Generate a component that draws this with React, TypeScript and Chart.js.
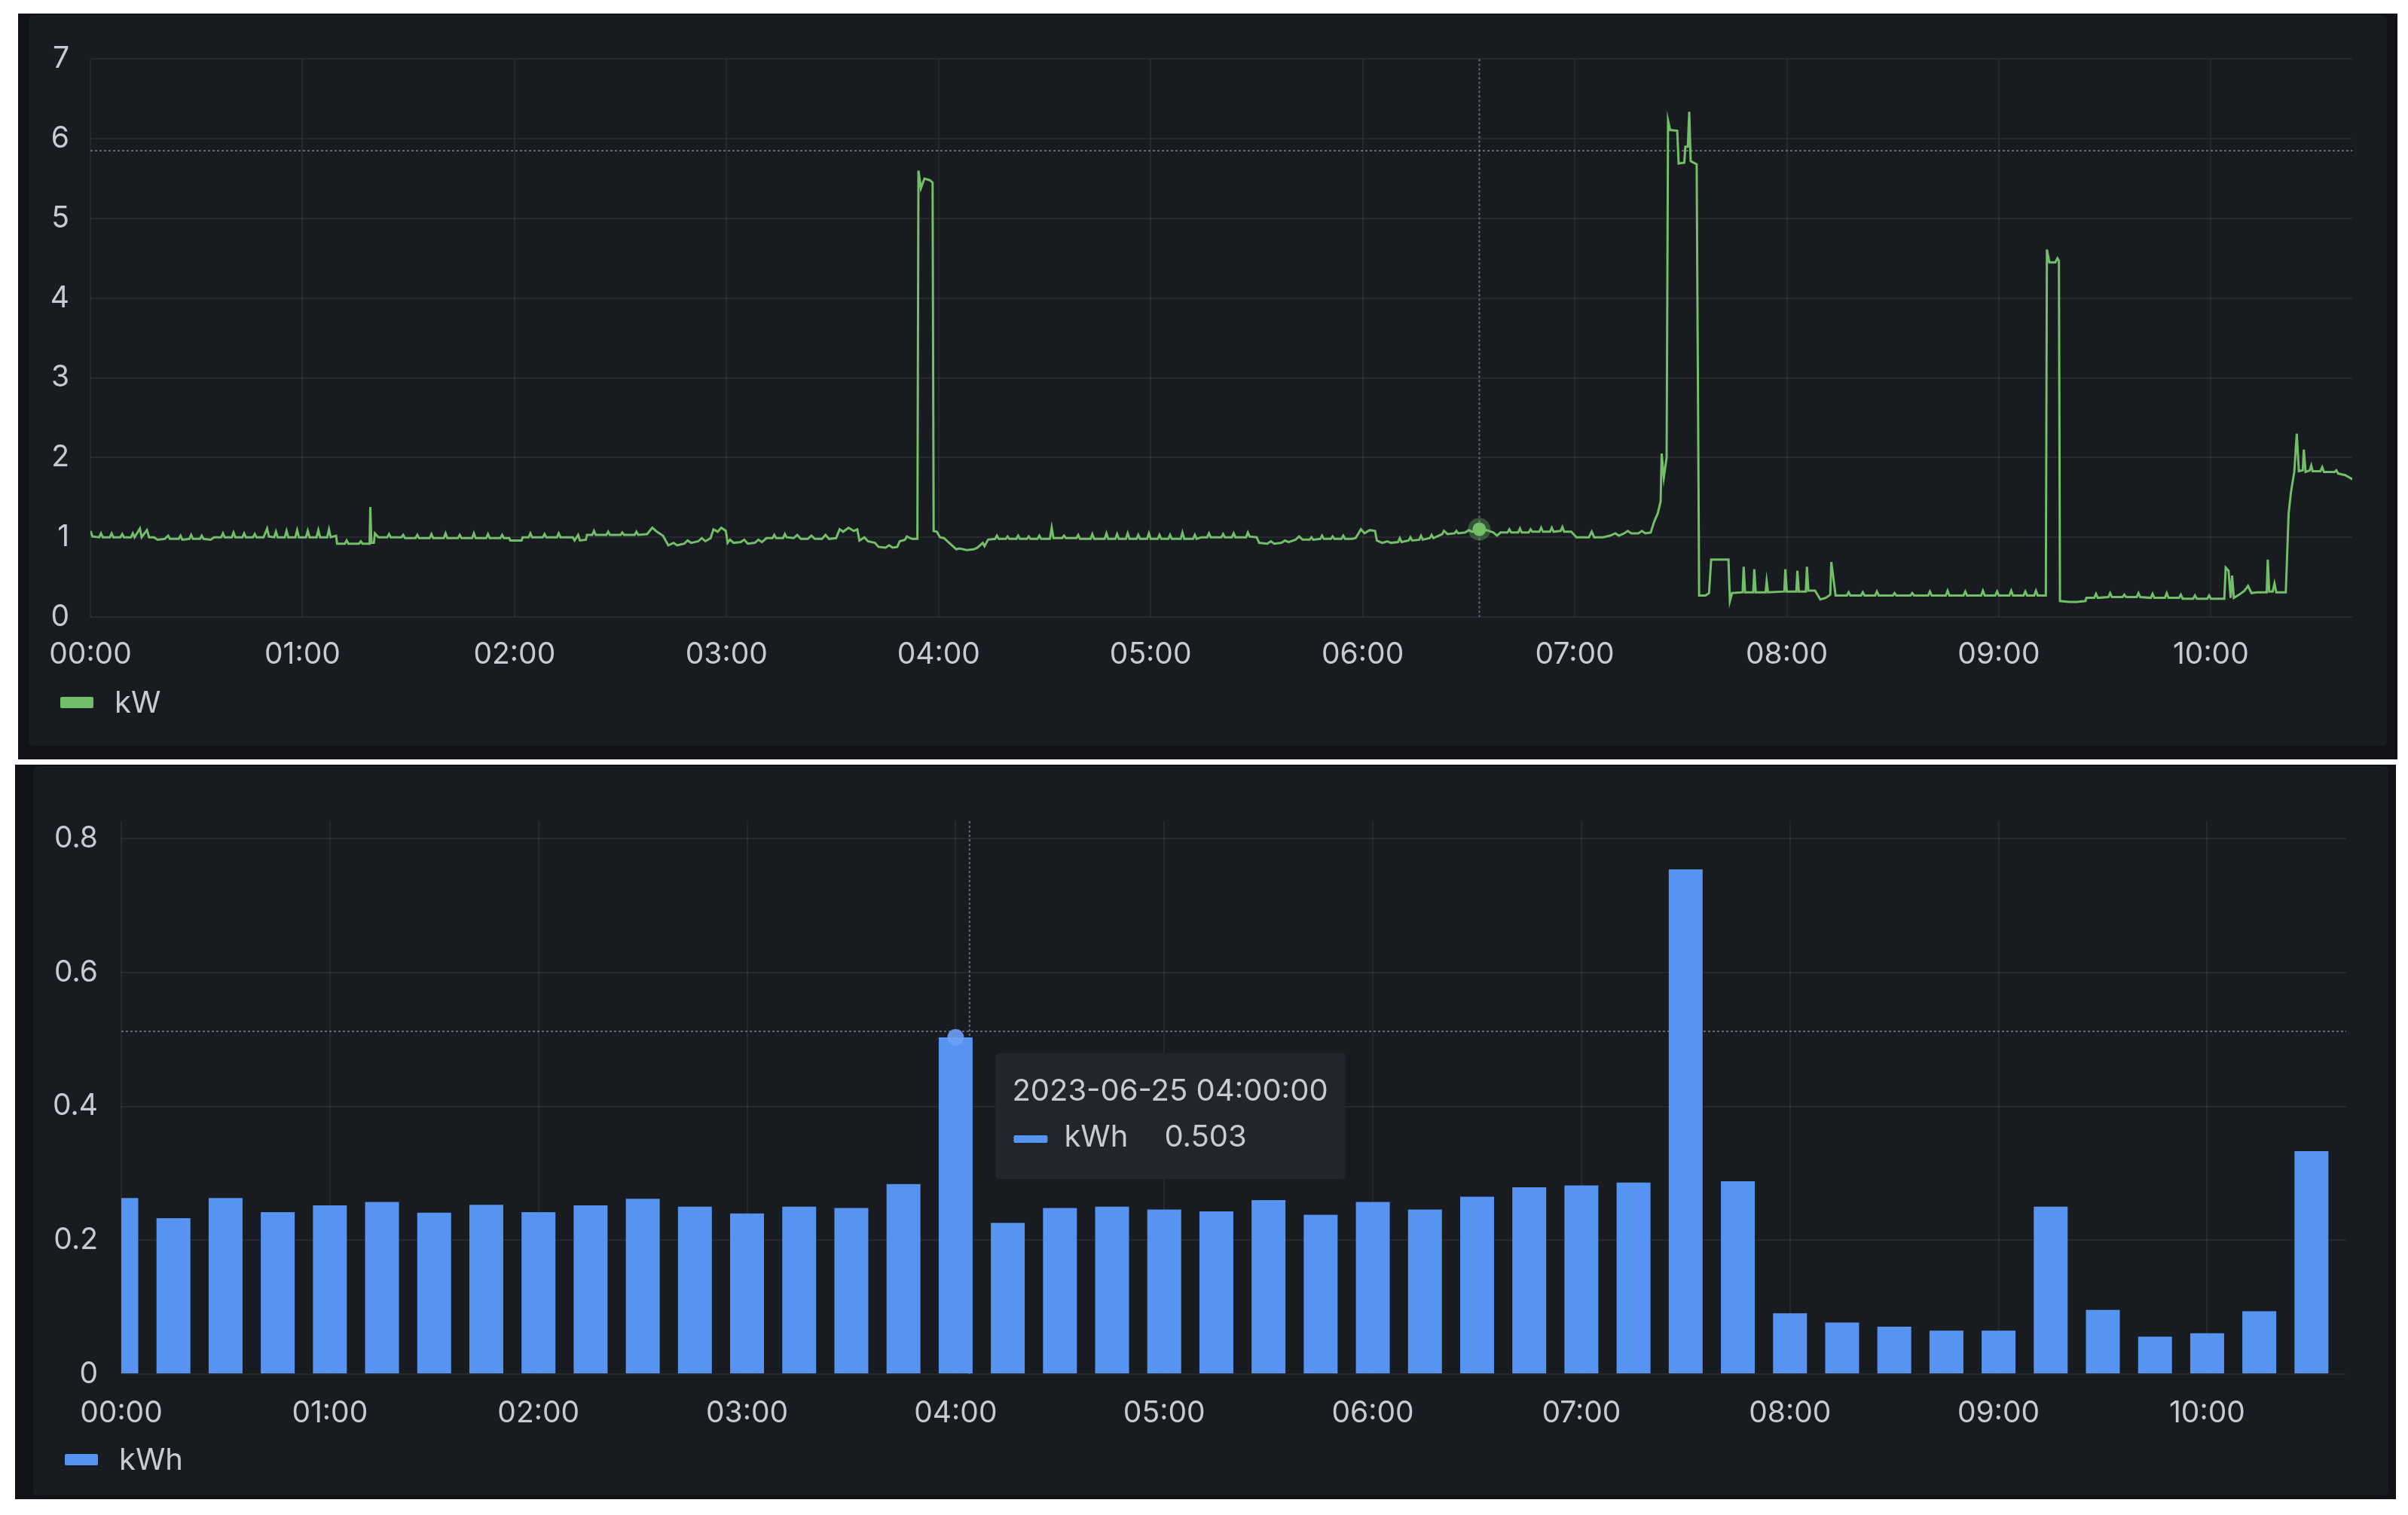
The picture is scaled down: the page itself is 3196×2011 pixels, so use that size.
import React, { useEffect, useRef } from 'react';
import { Chart, registerables } from 'chart.js';

Chart.register(...registerables);

// ---------- axis ticks ----------
const hourTicks = [0, 60, 120, 180, 240, 300, 360, 420, 480, 540, 600];
const hourLabels = ['00:00', '01:00', '02:00', '03:00', '04:00', '05:00', '06:00', '07:00', '08:00', '09:00', '10:00'];
const kwTicks = [0, 1, 2, 3, 4, 5, 6, 7];
const kwhTicks = [0, 0.2, 0.4, 0.6, 0.8];
const kwhTickLabels = ['0', '0.2', '0.4', '0.6', '0.8'];

// ---------- kW series: [minute of day, kW] ----------
const kwFrom0000: [number, number][] = [
  [0, 1.08], [0.6, 1.01], [2.5, 1.0], [3, 1.05], [3.5, 1.0], [5.5, 1.0], [6, 1.05], [6.5, 1.0], [8.5, 1.0], [9, 1.04], [9.5, 1.0],
  [11.5, 1.0], [12, 1.05], [12.5, 1.0], [14, 1.11], [14.5, 1.0], [16, 1.09], [16.6, 1.0], [18, 1.0], [19, 0.97], [21, 0.98], [22, 1.02],
  [22.5, 0.98], [25, 0.98], [25.5, 1.02], [26, 0.97], [28, 0.98], [28.5, 1.03], [29, 0.98], [31, 0.98], [31.5, 1.02], [32, 0.98],
  [34, 0.97], [35, 1.0], [37, 1.0], [37.5, 1.05], [38, 1.0], [40, 1.0], [40.5, 1.06], [41, 1.0], [43, 1.0], [43.5, 1.05], [44, 1.0],
  [46, 1.0], [46.5, 1.04], [47, 1.0], [49, 1.0], [50, 1.11], [50.5, 1.01], [52, 1.0], [52.5, 1.07], [53, 1.0], [55, 1.0], [55.5, 1.08],
  [56, 1.0], [58, 1.0], [58.5, 1.09], [59, 1.0],
];
const kwFrom0100: [number, number][] = [
  [61, 1.0], [61.5, 1.08], [62, 1.0], [64, 1.0], [64.5, 1.09], [65, 1.0], [67, 1.0], [67.5, 1.1], [68, 1.0], [69.5, 1.02], [69.8, 0.92],
  [72, 0.92], [72.5, 0.96], [73, 0.92], [76, 0.92], [76.5, 0.95], [77, 0.92], [79, 0.92], [79.2, 1.38], [79.5, 0.93], [80.2, 0.93],
  [80.5, 1.05], [81.5, 1.0], [84, 1.0], [84.5, 1.04], [85, 1.0], [88, 1.0], [88.5, 1.03], [89, 0.99], [92, 0.99], [92.5, 1.03], [93, 0.99],
  [96, 0.99], [96.5, 1.04], [97, 0.99], [100, 0.99], [100.5, 1.05], [101, 0.99], [104, 0.99], [104.5, 1.03], [105, 0.99], [108, 0.99],
  [108.5, 1.05], [109, 0.99], [112, 0.99], [112.5, 1.04], [113, 0.99], [116, 0.99], [116.5, 1.03], [117, 0.99], [118.5, 0.99],
  [118.8, 0.96], [121, 0.96],
];
const kwFrom0200: [number, number][] = [
  [122, 0.96], [122.3, 1.0], [124, 1.0], [124.5, 1.05], [125, 1.0], [128, 1.0], [128.5, 1.04], [129, 1.0], [132, 1.0], [132.5, 1.05],
  [133, 1.0], [136.5, 1.0], [137, 0.96], [138, 1.03], [138.5, 0.96], [140.2, 0.97], [140.5, 1.03], [142, 1.03], [142.5, 1.08], [143, 1.03],
  [146, 1.03], [146.5, 1.07], [147, 1.03], [150, 1.03], [150.5, 1.06], [151, 1.03], [154, 1.03], [154.5, 1.07], [155, 1.03], [157.5, 1.04],
  [159, 1.12], [160, 1.08], [161, 1.05], [162, 1.02], [163.5, 0.9], [165, 0.93], [166, 0.9], [168, 0.92], [169, 0.96], [170, 0.93],
  [172, 0.95], [173, 0.99], [174, 0.95], [175.5, 0.99], [176.3, 1.1], [177.5, 1.07], [178.5, 1.12], [179.8, 1.08], [180.3, 0.93],
];
const kwFrom0300: [number, number][] = [
  [181, 0.97], [182, 0.93], [184, 0.94], [185, 0.97], [186, 0.92], [188, 0.93], [189, 0.97], [190, 0.94], [191.3, 0.99], [193, 0.99],
  [193.5, 1.03], [194, 0.99], [196, 0.99], [196.5, 1.04], [197, 1.0], [199, 0.99], [200, 1.03], [201, 0.98], [203, 0.98], [204, 1.02],
  [205, 0.98], [207, 0.98], [208, 1.03], [209, 0.98], [211, 0.99], [212, 1.1], [213, 1.07], [214.5, 1.12], [216, 1.08], [217, 1.1],
  [217.6, 0.96], [219, 1.0], [220, 0.95], [222, 0.93], [223, 0.88], [225, 0.87], [226, 0.9], [227, 0.87], [228.3, 0.88], [229, 0.95],
  [230.5, 0.97], [231, 1.01], [232.5, 0.98], [234, 0.98], [234.3, 5.6], [235, 5.38], [236, 5.5], [237.5, 5.48], [238.3, 5.45],
  [238.6, 1.08], [239.5, 1.07], [240.4, 1.0],
];
const kwFrom0400: [number, number][] = [
  [241.5, 0.99], [243, 0.93], [245, 0.85], [246, 0.86], [248, 0.84], [250, 0.85], [251, 0.87], [252.5, 0.93], [253, 0.89], [254, 0.97],
  [256, 0.98], [256.5, 1.02], [257, 0.98], [259, 0.98], [259.5, 1.01], [260, 0.98], [262, 0.98], [262.5, 1.02], [263, 0.98], [265, 0.98],
  [265.5, 1.01], [266, 0.98], [268, 0.98], [268.5, 1.02], [269, 0.98], [271.5, 0.98], [272, 1.12], [272.5, 0.99], [275, 0.99],
  [275.5, 1.02], [276, 0.99], [279, 0.99], [279.5, 1.03], [280, 0.98], [283, 0.98], [283.5, 1.04], [284, 0.98], [287, 0.98],
  [287.5, 1.05], [288, 0.98], [290, 0.98], [290.5, 1.04], [291, 0.98], [293, 0.98], [293.5, 1.05], [294, 0.98], [296, 0.98],
  [296.5, 1.03], [297, 0.98], [299, 0.98], [299.5, 1.05], [300, 0.98],
];
const kwFrom0500: [number, number][] = [
  [302, 0.98], [302.5, 1.03], [303, 0.98], [305, 0.98], [305.5, 1.03], [306, 0.98], [308.5, 0.98], [309, 1.06], [309.5, 0.98],
  [312, 0.98], [312.5, 1.03], [313, 0.98], [314.3, 1.0], [316, 1.0], [316.5, 1.05], [317, 1.0], [320, 1.0], [320.5, 1.04], [321, 1.0],
  [323, 1.0], [323.5, 1.05], [324, 1.0], [327, 1.0], [327.5, 1.06], [328, 1.01], [330, 1.0], [330.7, 0.93], [333, 0.92], [334, 0.95],
  [335, 0.92], [337, 0.93], [338, 0.96], [339, 0.94], [341, 0.97], [342, 1.01], [343, 0.97], [345, 0.97], [345.5, 1.0], [346, 0.97],
  [348, 0.98], [348.5, 1.02], [349, 0.98], [351, 0.98], [351.5, 1.01], [352, 0.98], [354, 0.98], [354.5, 1.02], [355, 0.98], [357, 0.98],
  [358, 0.99], [359.5, 1.1], [360.5, 1.05], [362, 1.09], [363.5, 1.08], [364, 0.96], [365.5, 0.93],
];
const kwFrom0600: [number, number][] = [
  [367, 0.95], [368, 0.93], [370, 0.94], [370.5, 0.99], [371, 0.94], [373, 0.96], [373.5, 1.0], [374, 0.96], [376, 0.97], [376.5, 1.02],
  [377, 0.97], [379, 0.99], [379.5, 1.03], [380, 0.99], [382.5, 1.04], [383, 1.08], [384, 1.04], [386, 1.05], [386.5, 1.08], [387, 1.05],
  [389, 1.06], [390, 1.09], [391, 1.07], [393, 1.1], [395, 1.09], [397, 1.06], [398, 1.02], [399, 1.06], [401, 1.06], [401.5, 1.1],
  [402, 1.06], [404, 1.06], [404.5, 1.11], [405, 1.06], [407, 1.06], [407.5, 1.1], [408, 1.07], [410, 1.07], [410.5, 1.12], [411, 1.07],
  [413, 1.07], [413.5, 1.12], [414, 1.07], [416, 1.08], [416.5, 1.13], [417, 1.07], [419, 1.07], [420.5, 1.0],
];
const kwFrom0700: [number, number][] = [
  [422, 1.0], [424, 1.0], [424.8, 1.07], [425.5, 1.0], [428, 1.0], [430, 1.02], [431.5, 1.05], [432.5, 1.02], [434, 1.05], [435, 1.08],
  [436, 1.05], [438, 1.05], [439, 1.08], [440, 1.05], [441.5, 1.06], [442.5, 1.2], [443.5, 1.3], [444.3, 1.45], [444.6, 2.05],
  [445.2, 1.75], [446, 2.0], [446.4, 6.23], [447, 6.11], [449, 6.1], [449.4, 5.69], [451, 5.7], [451.3, 5.9], [452, 5.9], [452.4, 6.34],
  [452.8, 5.72], [454.5, 5.68], [455.2, 0.27], [457, 0.27], [458, 0.3], [458.6, 0.72], [463.5, 0.72], [463.9, 0.2], [464.5, 0.3],
  [467.5, 0.31], [467.8, 0.63], [468.2, 0.31], [470.5, 0.31], [470.8, 0.6], [471.2, 0.31], [474, 0.31], [474.3, 0.45], [474.7, 0.31],
  [479.3, 0.32], [479.6, 0.6], [480, 0.32],
];
const kwFrom0800: [number, number][] = [
  [482.7, 0.32], [483, 0.58], [483.4, 0.32], [485.4, 0.32], [485.7, 0.63], [486.1, 0.33], [488, 0.33], [489.5, 0.22], [491, 0.24],
  [492.3, 0.28], [492.6, 0.69], [493.3, 0.45], [493.8, 0.27], [497, 0.27], [497.5, 0.31], [498, 0.27], [501, 0.27], [501.5, 0.31],
  [502, 0.27], [505, 0.27], [505.5, 0.32], [506, 0.27], [510, 0.27], [510.5, 0.3], [511, 0.27], [515, 0.27], [515.5, 0.3], [516, 0.27],
  [520, 0.27], [520.5, 0.32], [521, 0.27], [525, 0.27], [525.5, 0.33], [526, 0.27], [530, 0.27], [530.5, 0.32], [531, 0.27], [535, 0.27],
  [535.5, 0.33], [536, 0.27], [539, 0.27], [539.5, 0.32], [540, 0.27],
];
const kwFrom0900: [number, number][] = [
  [543, 0.27], [543.5, 0.33], [544, 0.27], [547, 0.27], [547.5, 0.32], [548, 0.27], [550, 0.27], [550.5, 0.33], [551, 0.27],
  [553.3, 0.27], [553.6, 4.61], [554.3, 4.45], [556, 4.45], [556.6, 4.5], [557, 4.47], [557.3, 0.2], [560, 0.19], [562, 0.19],
  [564.5, 0.2], [564.8, 0.24], [567, 0.24], [567.5, 0.29], [568, 0.24], [571, 0.25], [571.5, 0.3], [572, 0.25], [575, 0.25],
  [575.5, 0.28], [576, 0.25], [579, 0.25], [579.5, 0.3], [580, 0.25], [583, 0.24], [583.5, 0.29], [584, 0.24], [587, 0.24],
  [587.5, 0.3], [588, 0.24], [591, 0.24], [591.5, 0.28], [592, 0.23], [595, 0.23], [595.5, 0.27], [596, 0.23], [599, 0.23],
  [599.5, 0.27], [600, 0.23],
];
const kwFrom1000: [number, number][] = [
  [602, 0.23], [603.8, 0.23], [604.2, 0.62], [605, 0.58], [605.6, 0.24], [606, 0.52], [606.5, 0.24], [608, 0.28], [609.5, 0.33],
  [610.5, 0.39], [611.5, 0.3], [613, 0.31], [615.8, 0.31], [616.1, 0.72], [616.5, 0.32], [617.5, 0.32], [618, 0.42], [618.5, 0.31],
  [621.2, 0.31], [622, 1.3], [622.7, 1.58], [623.6, 1.82], [624.3, 2.3], [624.9, 1.83], [626, 1.84], [626.3, 2.1], [626.8, 1.82],
  [628, 1.84], [628.4, 1.9], [628.8, 1.83], [631, 1.83], [631.5, 1.88], [632, 1.82], [635, 1.82], [635.5, 1.84], [636, 1.8],
  [638, 1.78], [640.4, 1.72],
];

// ---------- kWh series: one bar per 15 minutes ----------
const kwhMinutes = [
  0, 15, 30, 45, 60, 75, 90, 105, 120, 135, 150, 165, 180, 195, 210, 225, 240, 255, 270, 285, 300, 315,
  330, 345, 360, 375, 390, 405, 420, 435, 450, 465, 480, 495, 510, 525, 540, 555, 570, 585, 600, 615, 630,
];
const kwhValues = [
  0.263, 0.233, 0.263, 0.242, 0.252, 0.257, 0.241, 0.253, 0.242, 0.252, 0.262, 0.25, 0.24, 0.25, 0.248, 0.284,
  0.503, 0.226, 0.248, 0.25, 0.246, 0.243, 0.26, 0.238, 0.257, 0.246, 0.265, 0.279, 0.282, 0.286, 0.754, 0.288,
  0.091, 0.077, 0.071, 0.065, 0.065, 0.25, 0.096, 0.056, 0.061, 0.094, 0.333,
];

// ---------- hover state shown in the picture ----------
const topCursorMinute = 393;
const topCursorValue = 1.1;
const topCrosshairValue = 5.85;
const bottomCursorMinute = 244;
const bottomCrosshairValue = 0.512;
const tooltipDate = '2023-06-25';
const tooltipMinute = 240;

const X_MAX = 640;
const FONT = 'Inter, "Noto Sans", sans-serif';
const TEXT = '#c9cad3';
const GRID = 'rgba(204, 204, 220, 0.08)';
const CROSS = 'rgba(135, 150, 170, 0.65)';
const GREEN = '#73bf69';
const BLUE = '#5794f2';

const pad2 = (n: number) => (n < 10 ? '0' + n : '' + n);

function dotted(ctx: CanvasRenderingContext2D, x1: number, y1: number, x2: number, y2: number) {
  ctx.save();
  ctx.strokeStyle = CROSS;
  ctx.lineWidth = 2;
  ctx.setLineDash([3, 3]);
  ctx.beginPath();
  ctx.moveTo(x1, y1);
  ctx.lineTo(x2, y2);
  ctx.stroke();
  ctx.restore();
}

function xAxis(padding: number, height: number) {
  return {
    type: 'linear' as const,
    min: 0,
    max: X_MAX,
    offset: false,
    afterBuildTicks: (s: any) => {
      s.ticks = hourTicks.map((v) => ({ value: v }));
    },
    afterFit: (s: any) => {
      s.height = height;
    },
    ticks: {
      autoSkip: false,
      maxRotation: 0,
      padding,
      color: TEXT,
      font: { family: FONT, size: 39 },
      callback: (v: any) => hourLabels[hourTicks.indexOf(Number(v))] ?? '',
    },
    grid: { color: GRID, lineWidth: 2, drawTicks: false, offset: false },
    border: { display: false },
  };
}

function TopChart() {
  const ref = useRef<HTMLCanvasElement>(null);
  useEffect(() => {
    const series = [
      ...kwFrom0000, ...kwFrom0100, ...kwFrom0200, ...kwFrom0300, ...kwFrom0400, ...kwFrom0500,
      ...kwFrom0600, ...kwFrom0700, ...kwFrom0800, ...kwFrom0900, ...kwFrom1000,
    ];
    const overlay = {
      id: 'topOverlay',
      beforeDatasetsDraw(chart: any) {
        const { ctx, chartArea: a, scales } = chart;
        const y = scales.y.getPixelForValue(topCrosshairValue);
        const x = scales.x.getPixelForValue(topCursorMinute);
        dotted(ctx, a.left, y, a.right, y);
        dotted(ctx, x, a.top, x, a.bottom);
      },
      afterDatasetsDraw(chart: any) {
        const { ctx, scales } = chart;
        const x = scales.x.getPixelForValue(topCursorMinute);
        const y = scales.y.getPixelForValue(topCursorValue);
        ctx.save();
        ctx.fillStyle = 'rgba(115, 191, 105, 0.35)';
        ctx.beginPath();
        ctx.arc(x, y, 15, 0, Math.PI * 2);
        ctx.fill();
        ctx.fillStyle = GREEN;
        ctx.beginPath();
        ctx.arc(x, y, 9, 0, Math.PI * 2);
        ctx.fill();
        ctx.restore();
      },
    };
    const chart = new Chart(ref.current as HTMLCanvasElement, {
      type: 'line',
      data: {
        datasets: [
          {
            label: 'kW',
            data: series.map(([x, y]) => ({ x, y })),
            borderColor: GREEN,
            backgroundColor: GREEN,
            borderWidth: 3,
            pointRadius: 0,
            tension: 0,
            clip: 0,
          } as any,
        ],
      },
      options: {
        animation: false,
        responsive: true,
        maintainAspectRatio: false,
        events: [],
        layout: { padding: { top: 50, right: 46, bottom: 101, left: 0 } },
        plugins: { legend: { display: false }, tooltip: { enabled: false } },
        scales: {
          x: xAxis(27, 70) as any,
          y: {
            min: 0,
            max: 7,
            afterBuildTicks: (s: any) => {
              s.ticks = kwTicks.map((v) => ({ value: v }));
            },
            afterFit: (s: any) => {
              s.width = 82;
            },
            ticks: { padding: 28, color: TEXT, font: { family: FONT, size: 39 } },
            grid: { color: GRID, lineWidth: 2, drawTicks: false },
            border: { display: false },
          },
        },
      },
      plugins: [overlay],
    });
    return () => chart.destroy();
  }, []);
  return <canvas ref={ref} />;
}

function BottomChart() {
  const ref = useRef<HTMLCanvasElement>(null);
  useEffect(() => {
    const tipIndex = kwhMinutes.indexOf(tooltipMinute);
    const tipValue = kwhValues[tipIndex];
    const tipTitle = `${tooltipDate} ${pad2(Math.floor(tooltipMinute / 60))}:${pad2(tooltipMinute % 60)}:00`;
    const overlay = {
      id: 'bottomOverlay',
      beforeDatasetsDraw(chart: any) {
        const { ctx, chartArea: a, scales } = chart;
        const y = scales.y.getPixelForValue(bottomCrosshairValue);
        const x = scales.x.getPixelForValue(bottomCursorMinute);
        dotted(ctx, a.left, y, a.right, y);
        dotted(ctx, x, a.top, x, a.bottom);
      },
      afterDatasetsDraw(chart: any) {
        const { ctx, scales } = chart;
        const bx = scales.x.getPixelForValue(tooltipMinute);
        const by = scales.y.getPixelForValue(tipValue);
        ctx.save();
        ctx.fillStyle = 'rgba(110, 160, 245, 0.9)';
        ctx.beginPath();
        ctx.arc(bx, by, 11, 0, Math.PI * 2);
        ctx.fill();
        // tooltip
        const left = bx + 53;
        const top = scales.y.getPixelForValue(bottomCrosshairValue) + 29;
        ctx.fillStyle = '#22252b';
        ctx.beginPath();
        (ctx as any).roundRect(left, top, 464, 167, 4);
        ctx.fill();
        ctx.fillStyle = TEXT;
        ctx.font = `40px ${FONT}`;
        ctx.textBaseline = 'middle';
        ctx.textAlign = 'left';
        ctx.fillText(tipTitle, left + 22, top + 51);
        ctx.fillStyle = BLUE;
        ctx.beginPath();
        (ctx as any).roundRect(left + 24, top + 109, 45, 10, 2);
        ctx.fill();
        ctx.fillStyle = TEXT;
        ctx.fillText('kWh', left + 91, top + 112);
        ctx.fillText(tipValue.toFixed(3), left + 224, top + 112);
        ctx.restore();
      },
    };
    const chart = new Chart(ref.current as HTMLCanvasElement, {
      type: 'bar',
      data: {
        datasets: [
          {
            label: 'kWh',
            data: kwhMinutes.map((m, i) => ({ x: m, y: kwhValues[i] })),
            backgroundColor: BLUE,
            borderWidth: 0,
            barPercentage: 0.65,
            categoryPercentage: 1,
            clip: 0,
          } as any,
        ],
      },
      options: {
        animation: false,
        responsive: true,
        maintainAspectRatio: false,
        events: [],
        layout: { padding: { top: 68, right: 56, bottom: 91, left: 0 } },
        plugins: { legend: { display: false }, tooltip: { enabled: false } },
        scales: {
          x: xAxis(29, 70) as any,
          y: {
            min: 0,
            max: 0.826,
            afterBuildTicks: (s: any) => {
              s.ticks = kwhTicks.map((v) => ({ value: v }));
            },
            afterFit: (s: any) => {
              s.width = 117;
            },
            ticks: {
              padding: 31,
              color: TEXT,
              font: { family: FONT, size: 39 },
              callback: (v: any) => kwhTickLabels[kwhTicks.indexOf(Number(v))] ?? '',
            },
            grid: { color: GRID, lineWidth: 2, drawTicks: false },
            border: { display: false },
          },
        },
      },
      plugins: [overlay],
    });
    return () => chart.destroy();
  }, []);
  return <canvas ref={ref} />;
}

const abs = (left: number, top: number, width: number, height: number, extra: React.CSSProperties = {}): React.CSSProperties => ({
  position: 'absolute',
  left,
  top,
  width,
  height,
  ...extra,
});

function Legend({ x, y, color, label }: { x: number; y: number; color: string; label: string }) {
  return (
    <div style={abs(x, y - 25, 300, 50, { display: 'flex', alignItems: 'center' })}>
      <div style={{ width: 44, height: 15, background: color, borderRadius: 2, marginRight: 28 }} />
      <span style={{ fontFamily: FONT, fontSize: 40, color: TEXT, lineHeight: '50px' }}>{label}</span>
    </div>
  );
}

export default function App() {
  return (
    <div style={abs(0, 0, 3196, 2011, { background: '#ffffff', overflow: 'hidden' })}>
      {/* top panel */}
      <div style={abs(24, 18, 3158, 990, { background: '#111217' })} />
      <div style={abs(38, 20, 3130, 970, { background: '#181b1f', borderRadius: 6 })} />
      <div style={abs(38, 27, 3130, 963)}>
        <TopChart />
      </div>
      <Legend x={80} y={932} color={GREEN} label="kW" />

      {/* bottom panel */}
      <div style={abs(20, 1015, 3160, 975, { background: '#111217' })} />
      <div style={abs(44, 1017, 3126, 968, { background: '#181b1f', borderRadius: 6 })} />
      <div style={abs(44, 1022, 3126, 963)}>
        <BottomChart />
      </div>
      <Legend x={86} y={1937} color={BLUE} label="kWh" />
    </div>
  );
}
